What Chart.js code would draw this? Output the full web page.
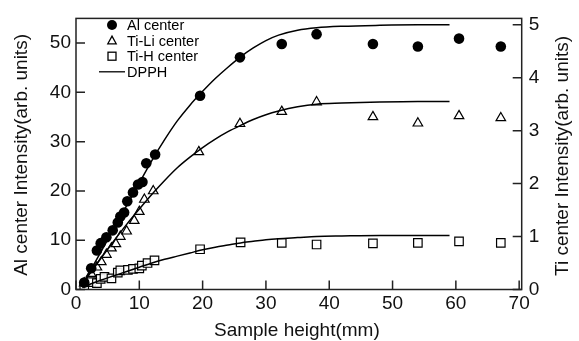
<!DOCTYPE html>
<html>
<head>
<meta charset="utf-8">
<script src="https://cdn.jsdelivr.net/npm/chart.js@4.4.1/dist/chart.umd.min.js"></script>
<style>
  body { margin: 0; background: #fff; }
  #wrap { width: 579px; height: 341px; }
</style>
</head>
<body>
<div id="wrap"><canvas id="grafico"></canvas></div>
<script>
// dati
const alX = [1.3, 2.4, 3.3, 3.9, 4.8, 5.8, 6.6, 7.0, 7.6, 8.1, 9.0, 9.8, 10.5, 11.1, 12.5, 19.6, 25.9, 32.5, 38.0, 46.9, 54.0, 60.5, 67.1];
const alY = [1.4, 4.3, 7.9, 9.4, 10.6, 12.0, 13.6, 14.8, 15.6, 17.9, 19.7, 21.3, 21.8, 25.6, 27.4, 39.3, 47.1, 49.8, 51.8, 49.8, 49.3, 50.9, 49.3];

const tiLiX = [1.3, 2.4, 3.3, 4.0, 4.8, 5.6, 6.3, 7.0, 8.0, 9.2, 10.0, 10.8, 12.2, 19.4, 25.9, 32.5, 38.0, 46.9, 54.0, 60.5, 67.1];
const tiLiY = [0.12, 0.3, 0.42, 0.52, 0.66, 0.78, 0.86, 1.0, 1.1, 1.3, 1.47, 1.7, 1.86, 2.6, 3.13, 3.36, 3.54, 3.26, 3.14, 3.28, 3.24];

const tiHX = [1.3, 2.4, 3.3, 3.9, 4.5, 5.6, 6.6, 7.0, 8.2, 9.0, 10.0, 10.4, 11.3, 12.4, 19.6, 26.0, 32.5, 38.0, 46.9, 54.0, 60.5, 67.1];
const tiHY = [0.06, 0.14, 0.12, 0.2, 0.24, 0.21, 0.32, 0.36, 0.37, 0.39, 0.4, 0.45, 0.5, 0.55, 0.76, 0.89, 0.88, 0.85, 0.87, 0.88, 0.91, 0.88];

// curve DPPH
const curveX = [1, 2, 4, 6, 8, 10, 12, 14, 16, 18, 20, 22, 24, 26, 28, 30, 32, 35, 38, 42, 48, 54, 59];
const alCurve = [1.0, 3.2, 7.8, 12.4, 17.0, 21.6, 26.2, 30.4, 34.2, 37.4, 40.2, 42.8, 45.1, 47.2, 49.0, 50.5, 51.6, 52.6, 53.1, 53.4, 53.6, 53.7, 53.7];
const tiLiCurve = [0.1, 0.27, 0.6, 0.92, 1.23, 1.52, 1.8, 2.06, 2.3, 2.5, 2.68, 2.84, 2.98, 3.1, 3.21, 3.3, 3.37, 3.45, 3.5, 3.52, 3.54, 3.55, 3.55];
const tiHCurve = [0.04, 0.09, 0.18, 0.26, 0.34, 0.42, 0.5, 0.57, 0.63, 0.69, 0.75, 0.8, 0.84, 0.88, 0.91, 0.94, 0.96, 0.98, 1.0, 1.01, 1.02, 1.02, 1.02];

const xTicks = [0, 10, 20, 30, 40, 50, 60, 70];
const yLeftTicks = [0, 10, 20, 30, 40, 50];
const yRightTicks = [0, 1, 2, 3, 4, 5];

const legendItems = [
    { label: "Al center", style: "circle" },
    { label: "Ti-Li center", style: "triangle" },
    { label: "Ti-H center", style: "rect" },
    { label: "DPPH", style: "line" }
];

const FONT = "'Liberation Sans', Arial, sans-serif";

function punti(xs, ys) {
    return xs.map((x, i) => ({ x: x, y: ys[i] }));
}

const cornice = {
    id: "cornice",
    afterDraw(chart) {
        const ctx = chart.ctx;
        const a = chart.chartArea;
        const sx = chart.scales.x, sl = chart.scales.y, sr = chart.scales.y1;
        ctx.save();
        ctx.strokeStyle = "#222";
        ctx.lineWidth = 1.5;
        ctx.strokeRect(a.left, a.top, a.right - a.left, a.bottom - a.top);
        const len = 9;
        ctx.beginPath();
        xTicks.forEach(v => {
            const px = sx.getPixelForValue(v);
            ctx.moveTo(px, a.bottom); ctx.lineTo(px, a.bottom - len);
        });
        yLeftTicks.forEach(v => {
            const py = sl.getPixelForValue(v);
            ctx.moveTo(a.left, py); ctx.lineTo(a.left + len, py);
        });
        yRightTicks.forEach(v => {
            const py = sr.getPixelForValue(v);
            ctx.moveTo(a.right, py); ctx.lineTo(a.right - len, py);
        });
        ctx.stroke();

        // titoli assi
        ctx.fillStyle = "#111";
        ctx.font = "19px " + FONT;
        ctx.textAlign = "center";
        ctx.textBaseline = "middle";
        ctx.fillText("Sample height(mm)", (a.left + a.right) / 2 - 2, 331);
        ctx.save();
        ctx.translate(22, (a.top + a.bottom) / 2 + 1);
        ctx.rotate(-Math.PI / 2);
        ctx.fillText("Al center Intensity(arb. units)", 0, 0);
        ctx.restore();
        ctx.save();
        ctx.translate(563, (a.top + a.bottom) / 2 + 2);
        ctx.rotate(-Math.PI / 2);
        ctx.fillText("Ti center Intensity(arb. units)", 0, 0);
        ctx.restore();

        // legenda
        ctx.font = "14.5px " + FONT;
        ctx.textAlign = "left";
        ctx.lineWidth = 1.3;
        ctx.strokeStyle = "#000";
        ctx.fillStyle = "#000";
        legendItems.forEach((it, i) => {
            const y = 25 + i * 15.6;
            const mx = 112;
            if (it.style === "line") {
                ctx.beginPath();
                ctx.moveTo(99, y); ctx.lineTo(125, y);
                ctx.stroke();
            } else if (it.style === "circle") {
                ctx.beginPath();
                ctx.arc(mx, y, 5, 0, Math.PI * 2);
                ctx.fill();
            } else if (it.style === "triangle") {
                ctx.beginPath();
                ctx.moveTo(mx, y - 4.5);
                ctx.lineTo(mx + 4.2, y + 3.2);
                ctx.lineTo(mx - 4.2, y + 3.2);
                ctx.closePath();
                ctx.stroke();
            } else {
                ctx.strokeRect(mx - 4, y - 4, 8, 8);
            }
            ctx.fillText(it.label, 127, y + 1);
        });
        ctx.restore();
    }
};

const tickFont = { family: FONT, size: 19 };

new Chart(document.getElementById("grafico"), {
    type: "scatter",
    data: {
        datasets: [
            {
                label: "DPPH Al", data: punti(curveX, alCurve), yAxisID: "y",
                showLine: true, pointRadius: 0, borderColor: "#000", borderWidth: 1.5,
                cubicInterpolationMode: "monotone"
            },
            {
                label: "DPPH Ti-Li", data: punti(curveX, tiLiCurve), yAxisID: "y1",
                showLine: true, pointRadius: 0, borderColor: "#000", borderWidth: 1.5,
                cubicInterpolationMode: "monotone"
            },
            {
                label: "DPPH Ti-H", data: punti(curveX, tiHCurve), yAxisID: "y1",
                showLine: true, pointRadius: 0, borderColor: "#000", borderWidth: 1.5,
                cubicInterpolationMode: "monotone"
            },
            {
                label: "Al center", data: punti(alX, alY), yAxisID: "y",
                pointStyle: "circle", pointRadius: 5.3, backgroundColor: "#000",
                borderColor: "#000", borderWidth: 0
            },
            {
                label: "Ti-Li center", data: punti(tiLiX, tiLiY), yAxisID: "y1",
                pointStyle: "triangle", pointRadius: 5.5, backgroundColor: "rgba(255,255,255,0.9)",
                borderColor: "#000", borderWidth: 1.2
            },
            {
                label: "Ti-H center", data: punti(tiHX, tiHY), yAxisID: "y1",
                pointStyle: "rect", pointRadius: 6, backgroundColor: "rgba(255,255,255,0.9)",
                borderColor: "#000", borderWidth: 1.2
            }
        ]
    },
    options: {
        responsive: true,
        maintainAspectRatio: false,
        animation: false,
        layout: { padding: { top: 11.7, left: 0, right: 0, bottom: 0 } },
        plugins: { legend: { display: false }, tooltip: { enabled: false } },
        scales: {
            x: {
                type: "linear", min: 0, max: 70.4,
                grid: { display: false, drawTicks: false }, border: { display: false },
                afterBuildTicks: s => { s.ticks = xTicks.map(v => ({ value: v })); },
                afterFit: s => { s.height = 51.5; },
                ticks: { color: "#111", font: tickFont, padding: 3, maxRotation: 0, autoSkip: false }
            },
            y: {
                type: "linear", position: "left", min: 0, max: 55,
                grid: { display: false, drawTicks: false }, border: { display: false },
                afterBuildTicks: s => { s.ticks = yLeftTicks.map(v => ({ value: v })); },
                afterFit: s => { s.width = 76; },
                ticks: { color: "#111", font: tickFont, padding: 5 }
            },
            y1: {
                type: "linear", position: "right", min: 0, max: 5.12,
                grid: { display: false, drawTicks: false }, border: { display: false },
                afterBuildTicks: s => { s.ticks = yRightTicks.map(v => ({ value: v })); },
                afterFit: s => { s.width = 57.3; },
                ticks: { color: "#111", font: tickFont, padding: 7 }
            }
        }
    },
    plugins: [cornice]
});
</script>
</body>
</html>
